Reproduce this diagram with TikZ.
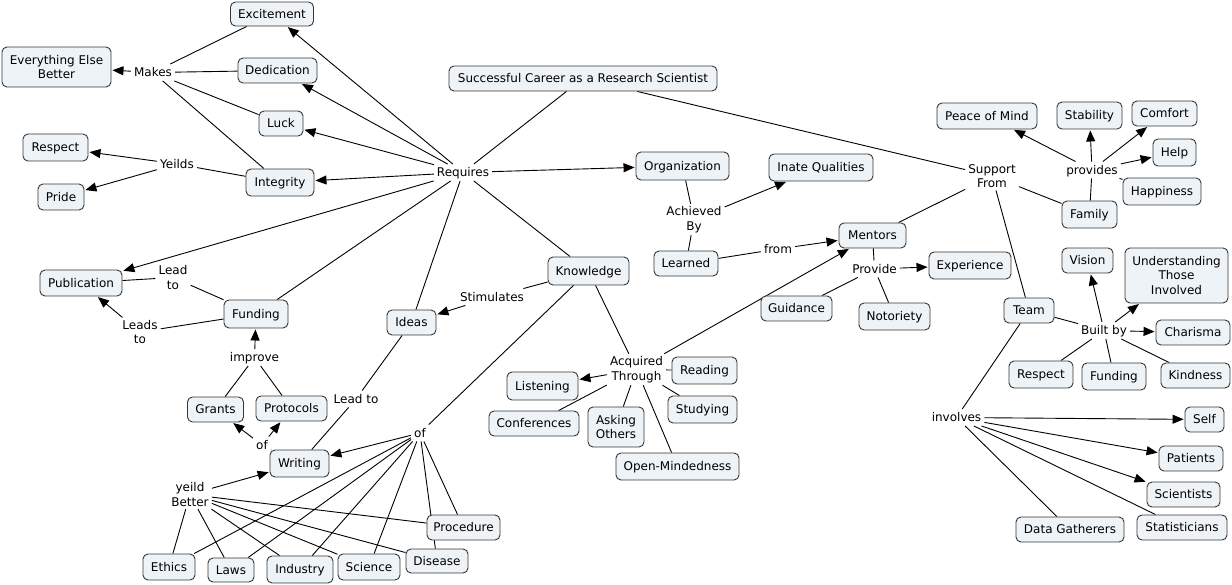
\documentclass[tikz,border=0pt]{standalone}
\usepackage{fontspec}
\setmainfont{DejaVu Sans}
\usetikzlibrary{arrows.meta,backgrounds}
\definecolor{cfill}{RGB}{237,243,246}
\definecolor{cborder}{RGB}{55,55,55}
\begin{document}
\begin{tikzpicture}[x=1pt,y=-1pt,
  every node/.style={font=\fontsize{12pt}{14.5pt}\selectfont},
  conbox/.style={draw=cborder, fill=cfill, rounded corners=5pt, line width=0.9pt, inner sep=0pt},
  cone/.style={conbox, text height=10pt, text depth=1.5pt},
  cmulti/.style={conbox, align=center},
  sz/.style 2 args={minimum width=#1pt, minimum height=#2pt},
  labone/.style={inner xsep=3pt, inner ysep=2.5pt, text height=10pt, text depth=1.5pt},
  labmulti/.style={inner xsep=3pt, inner ysep=2.5pt, align=center},
  link/.style={line width=0.9pt, draw=black},
  arr/.style={link, -{Triangle[length=11pt,width=9pt]}, shorten >=1pt}]
\useasboundingbox (0,0) rectangle (1232,585);
% concepts
\node[cone,sz={268}{25}] (career) at (583,78.5) {Successful Career as a Research Scientist};
\node[cone,sz={83}{24}] (excite) at (272,14) {Excitement};
\node[cmulti,sz={109}{40}] (everything) at (56.5,67) {Everything Else\\Better};
\node[cone,sz={79}{25}] (dedic) at (277.5,70.5) {Dedication};
\node[cone,sz={44}{25}] (luck) at (281,123.5) {Luck};
\node[cone,sz={65}{27}] (respect1) at (55.5,147.5) {Respect};
\node[cone,sz={46}{26}] (pride) at (61,197) {Pride};
\node[cone,sz={68}{27}] (integ) at (280,182.5) {Integrity};
\node[cone,sz={82}{26}] (publ) at (81,283) {Publication};
\node[cone,sz={64}{28}] (funding1) at (256,314) {Funding};
\node[cone,sz={49}{25}] (ideas) at (411.5,322.5) {Ideas};
\node[cone,sz={56}{25}] (grants) at (215.5,409.5) {Grants};
\node[cone,sz={71}{25}] (protocols) at (291.5,408.5) {Protocols};
\node[cone,sz={59}{27}] (writing) at (299.5,463.5) {Writing};
\node[cone,sz={73}{25}] (procedure) at (463.5,527.5) {Procedure};
\node[cone,sz={52}{26}] (ethics) at (169,567) {Ethics};
\node[cone,sz={46}{24}] (laws) at (231,570) {Laws};
\node[cone,sz={66}{27}] (industry) at (300,569.5) {Industry};
\node[cone,sz={62}{26}] (science) at (369,567) {Science};
\node[cone,sz={62}{24}] (disease) at (437,561) {Disease};
\node[cone,sz={93}{28}] (organization) at (682.5,166) {Organization};
\node[cone,sz={104}{27}] (inate) at (821,167.5) {Inate Qualities};
\node[cone,sz={64}{25}] (learned) at (686,263.5) {Learned};
\node[cone,sz={67}{25}] (mentors) at (872.5,235.5) {Mentors};
\node[cone,sz={81}{28}] (knowledge) at (588.5,271) {Knowledge};
\node[cone,sz={82}{27}] (experience) at (970,265.5) {Experience};
\node[cone,sz={71}{25}] (guidance) at (796.5,308.5) {Guidance};
\node[cone,sz={71}{27}] (notoriety) at (894.5,316.5) {Notoriety};
\node[cone,sz={65}{27}] (reading) at (704.5,370.5) {Reading};
\node[cone,sz={71}{28}] (listening) at (542.5,386) {Listening};
\node[cone,sz={69}{27}] (studying) at (702.5,409.5) {Studying};
\node[cone,sz={90}{25}] (conferences) at (534,423.5) {Conferences};
\node[cmulti,sz={56}{40}] (asking) at (616,427) {Asking\\Others};
\node[cone,sz={123}{27}] (openmind) at (677.5,466.5) {Open-Mindedness};
\node[cone,sz={100}{26}] (peace) at (987,116) {Peace of Mind};
\node[cone,sz={65}{27}] (stability) at (1089.5,115.5) {Stability};
\node[cone,sz={65}{25}] (comfort) at (1164.5,113.5) {Comfort};
\node[cone,sz={43}{27}] (help) at (1174.5,152.5) {Help};
\node[cone,sz={78}{27}] (happiness) at (1162,191.5) {Happiness};
\node[cone,sz={55}{27}] (family) at (1089.5,214.5) {Family};
\node[cone,sz={51}{25}] (vision) at (1087.5,260.5) {Vision};
\node[cmulti,sz={103}{55}] (underst) at (1176.5,275.5) {Understanding\\Those\\Involved};
\node[cone,sz={50}{25}] (team) at (1029,310.5) {Team};
\node[cone,sz={74}{25}] (charisma) at (1193,332.5) {Charisma};
\node[cone,sz={64}{27}] (respect2) at (1041,374.5) {Respect};
\node[cone,sz={64}{27}] (funding2) at (1114,376.5) {Funding};
\node[cone,sz={69}{25}] (kindness) at (1195.5,375.5) {Kindness};
\node[cone,sz={39}{25}] (self) at (1204.5,419.5) {Self};
\node[cone,sz={64}{25}] (patients) at (1191,458.5) {Patients};
\node[cone,sz={73}{25}] (scientists) at (1183.5,494.5) {Scientists};
\node[cone,sz={90}{25}] (statisticians) at (1182,527.5) {Statisticians};
\node[cone,sz={108}{25}] (datag) at (1070,529.5) {Data Gatherers};
% linking phrases
\node[labone] (requires) at (463,172.5) {Requires};
\node[labone] (makes) at (153,72.5) {Makes};
\node[labone] (yeilds) at (177,164) {Yeilds};
\node[labmulti] (leadto1) at (173,277.5) {Lead\\to};
\node[labmulti] (leadsto) at (140,332) {Leads\\to};
\node[labone] (improve) at (254.5,357.5) {improve};
\node[labone] (leadto2) at (356,399) {Lead to};
\node[labone] (ofsmall) at (262,445) {of};
\node[labone] (ofbig) at (420,433) {of};
\node[labmulti] (yeild) at (190,494.5) {yeild\\Better};
\node[labone] (stimulates) at (492,297) {Stimulates};
\node[labmulti] (achieved) at (694,219.5) {Achieved\\By};
\node[labone] (from) at (778,249) {from};
\node[labone] (provide) at (874.5,269) {Provide};
\node[labmulti] (acquired) at (636.5,369.5) {Acquired\\Through};
\node[labone] (provides) at (1092,170) {provides};
\node[labmulti] (support) at (992,176) {Support\\From};
\node[labone] (builtby) at (1104,330.5) {Built by};
\node[labone] (involves) at (956.5,417.5) {involves};
% connectors
\begin{scope}[on background layer]
\fill[white] (0,0) rectangle (1232,585);
\draw[link] (career) -- (requires);
\draw[link] (career) -- (support);
\foreach \t in {excite,dedic,luck,integ,publ,organization} \draw[arr] (requires) -- (\t);
\foreach \t in {funding1,ideas,knowledge} \draw[link] (requires) -- (\t);
\foreach \s in {excite,dedic,luck,integ} \draw[link] (\s) -- (makes);
\draw[arr] (makes) -- (everything);
\draw[link] (integ) -- (yeilds);
\draw[arr] (yeilds) -- (respect1);
\draw[arr] (yeilds) -- (pride);
\draw[link] (funding1) -- (leadto1);
\draw[link] (leadto1) -- (publ);
\draw[link] (funding1) -- (leadsto);
\draw[arr] (leadsto) -- (publ);
\draw[link] (grants) -- (improve);
\draw[link] (protocols) -- (improve);
\draw[arr] (improve) -- (funding1);
\draw[link] (writing) -- (ofsmall);
\draw[arr] (ofsmall) -- (grants);
\draw[arr] (ofsmall) -- (protocols);
\draw[link] (ideas) -- (leadto2);
\draw[link] (leadto2) -- (writing);
\draw[link] (knowledge) -- (stimulates);
\draw[arr] (stimulates) -- (ideas);
\draw[link] (knowledge) -- (ofbig);
\draw[arr] (ofbig) -- (writing);
\foreach \t in {ethics,laws,industry,science,disease,procedure} \draw[link] (ofbig) -- (\t);
\draw[arr] (yeild) -- (writing);
\foreach \t in {ethics,laws,industry,science,disease,procedure} \draw[link] (yeild) -- (\t);
\draw[link] (knowledge) -- (acquired);
\draw[arr] (acquired) -- (listening);
\draw[arr] (acquired) -- (mentors);
\foreach \t in {reading,studying,conferences,asking,openmind} \draw[link] (acquired) -- (\t);
\draw[link] (organization) -- (achieved);
\draw[arr] (achieved) -- (inate);
\draw[link] (achieved) -- (learned);
\draw[link] (learned) -- (from);
\draw[arr] (from) -- (mentors);
\draw[link] (mentors) -- (provide);
\draw[arr] (provide) -- (experience);
\draw[link] (provide) -- (guidance);
\draw[link] (provide) -- (notoriety);
\draw[link] (support) -- (mentors);
\draw[link] (support) -- (family);
\draw[link] (support) -- (team);
\draw[link] (family) -- (provides);
\foreach \t in {peace,stability,comfort,help} \draw[arr] (provides) -- (\t);
\draw[link] (provides) -- (happiness);
\draw[link] (team) -- (builtby);
\foreach \t in {vision,underst,charisma} \draw[arr] (builtby) -- (\t);
\foreach \t in {respect2,funding2,kindness} \draw[link] (builtby) -- (\t);
\draw[link] (team) -- (involves);
\foreach \t in {self,patients,scientists} \draw[arr] (involves) -- (\t);
\draw[link] (involves) -- (statisticians);
\draw[link] (involves) -- (datag);
\end{scope}
\end{tikzpicture}
\end{document}
